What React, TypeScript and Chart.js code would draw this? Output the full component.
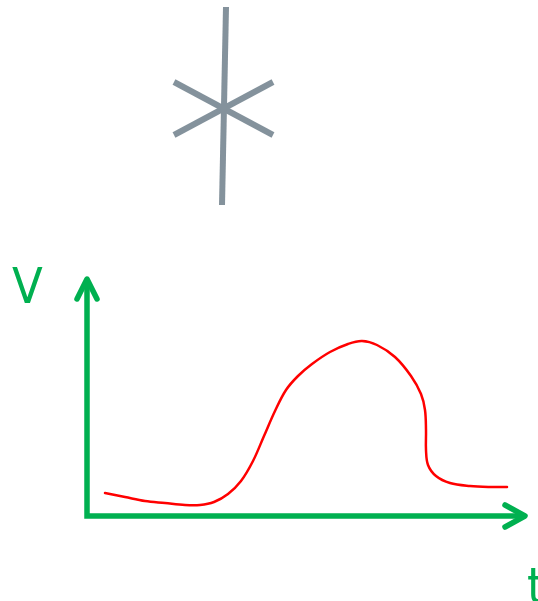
import React, { useEffect, useRef } from "react";
import { Chart, registerables } from "chart.js";

Chart.register(...registerables);

// Drawing area in plot units (y grows downward)
const VIEW_W = 538;
const VIEW_H = 601;

// Star: three strokes through a common centre
const starStrokeX: number[][] = [
  [226, 222],
  [174, 273],
  [174, 273],
];
const starStrokeY: number[][] = [
  [7, 205],
  [82, 135],
  [135, 82],
];

// V–t axes (vertical up, then along to the right)
const axisX = [87, 87, 525];
const axisY = [279, 516, 516];

// Arrow heads at the end of each axis
const arrowX: number[][] = [
  [77, 87, 97],
  [505, 525, 505],
];
const arrowY: number[][] = [
  [299, 279, 299],
  [505, 516, 527],
];

// Speed over time
const curveT = [105, 125, 145, 165, 185, 200, 214, 228, 241, 253, 264, 275, 286, 298, 312, 330, 348, 362, 377, 395, 411, 421, 425, 426, 426, 428, 436, 450, 470, 490, 507];
const curveV = [493, 497, 501, 503, 505, 505, 502, 494, 481, 461, 436, 411, 390, 376, 364, 352, 344, 341, 345, 357, 376, 394, 410, 430, 450, 465, 476, 483, 486, 487, 487];

// Axis names
const axisNames = ["V", "t"];
const axisNameX = [12, 527];
const axisNameY = [303, 603];

const STAR_GREY = "rgb(132,146,156)";
const AXIS_GREEN = "rgb(0,176,80)";
const CURVE_RED = "rgb(255,0,0)";

const toPoints = (xs: number[], ys: number[]) => xs.map((x, i) => ({ x, y: ys[i] }));

const axisNamePlugin = {
  id: "axisNames",
  afterDatasetsDraw(chart: Chart) {
    const { ctx, scales } = chart;
    ctx.save();
    ctx.fillStyle = AXIS_GREEN;
    ctx.font = '50px "Liberation Sans Narrow", "DejaVu Sans Condensed", "Liberation Sans", sans-serif';
    ctx.textAlign = "left";
    ctx.textBaseline = "alphabetic";
    axisNames.forEach((name, i) => {
      ctx.fillText(name, scales.x.getPixelForValue(axisNameX[i]), scales.y.getPixelForValue(axisNameY[i]));
    });
    ctx.restore();
  },
};

export default function App() {
  const canvasRef = useRef<HTMLCanvasElement | null>(null);

  useEffect(() => {
    document.body.style.margin = "0";
    const canvas = canvasRef.current;
    if (!canvas) return;

    const starSets = starStrokeX.map((xs, i) => ({
      data: toPoints(xs, starStrokeY[i]),
      borderColor: STAR_GREY,
      borderWidth: 6,
      borderCapStyle: "butt" as const,
      showLine: true,
      pointRadius: 0,
      tension: 0,
    }));

    const axisSet = {
      data: toPoints(axisX, axisY),
      borderColor: AXIS_GREEN,
      borderWidth: 5.5,
      borderCapStyle: "butt" as const,
      borderJoinStyle: "miter" as const,
      showLine: true,
      pointRadius: 0,
      tension: 0,
    };

    const arrowSets = arrowX.map((xs, i) => ({
      data: toPoints(xs, arrowY[i]),
      borderColor: AXIS_GREEN,
      borderWidth: 5.5,
      borderCapStyle: "round" as const,
      borderJoinStyle: "round" as const,
      showLine: true,
      pointRadius: 0,
      tension: 0,
    }));

    const curveSet = {
      data: toPoints(curveT, curveV),
      borderColor: CURVE_RED,
      borderWidth: 2.5,
      borderCapStyle: "round" as const,
      showLine: true,
      pointRadius: 0,
      tension: 0.35,
    };

    const chart = new Chart(canvas, {
      type: "scatter",
      data: { datasets: [...starSets, axisSet, ...arrowSets, curveSet] as any },
      options: {
        animation: false,
        responsive: false,
        maintainAspectRatio: false,
        layout: { padding: 0 },
        plugins: { legend: { display: false }, tooltip: { enabled: false } },
        scales: {
          x: { type: "linear", min: 0, max: VIEW_W, display: false },
          y: { type: "linear", min: 0, max: VIEW_H, reverse: true, display: false },
        },
      },
      plugins: [axisNamePlugin],
    });

    return () => chart.destroy();
  }, []);

  return (
    <div style={{ width: VIEW_W, height: VIEW_H, background: "#fff" }}>
      <canvas ref={canvasRef} width={VIEW_W} height={VIEW_H} />
    </div>
  );
}
